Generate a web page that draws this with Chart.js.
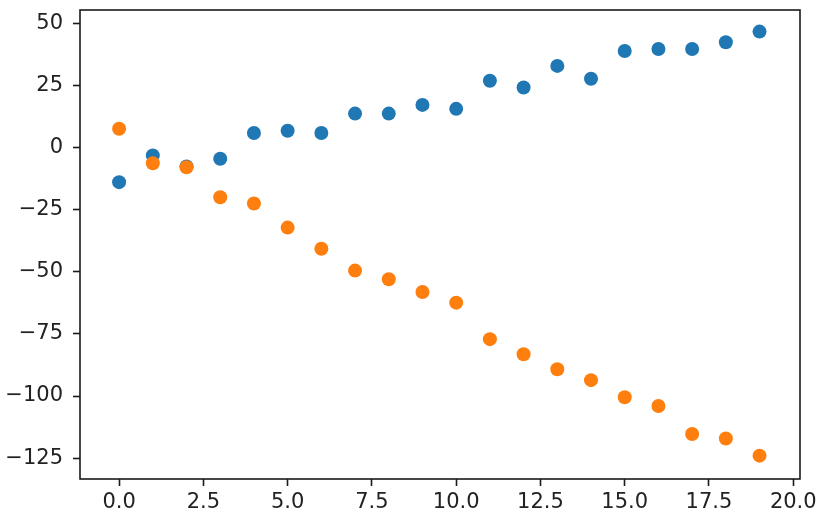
<!DOCTYPE html>
<html>
<head>
<meta charset="utf-8">
<script src="https://cdn.jsdelivr.net/npm/chart.js@4.4.0/dist/chart.umd.min.js"></script>
<style>
  html, body { margin: 0; padding: 0; background: #fff; }
  #wrap { width: 825px; height: 520px; }
</style>
</head>
<body>
<div id="wrap"><canvas id="c" width="825" height="520"></canvas></div>
<script>
const xValues = [0, 1, 2, 3, 4, 5, 6, 7, 8, 9, 10, 11, 12, 13, 14, 15, 16, 17, 18, 19];
const blueValues = [-13.9, -3.2, -7.6, -4.5, 5.9, 6.8, 5.9, 13.7, 13.7, 17.2, 15.6, 26.9, 24.2, 32.9, 27.7, 38.9, 39.7, 39.7, 42.4, 46.7];
const orangeValues = [7.6, -6.3, -7.9, -20.0, -22.5, -32.2, -40.7, -49.5, -53.0, -58.1, -62.4, -77.1, -83.2, -89.2, -93.6, -100.5, -104.0, -115.3, -117.1, -124.0];
const xTicks = [0, 2.5, 5, 7.5, 10, 12.5, 15, 17.5, 20];
const yTicks = [-125, -100, -75, -50, -25, 0, 25, 50];

const toPoints = (ys) => xValues.map((x, i) => ({ x: x, y: ys[i] }));

const frame = {
  id: 'frame',
  afterDatasetsDraw(chart) {
    const a = chart.chartArea;
    const ctx = chart.ctx;
    ctx.save();
    ctx.strokeStyle = '#1a1a1a';
    ctx.lineWidth = 1.6;
    ctx.strokeRect(a.left, a.top, a.right - a.left, a.bottom - a.top);
    ctx.restore();
  }
};

const font = { family: 'DejaVu Sans', size: 21 };

new Chart(document.getElementById('c'), {
  type: 'scatter',
  data: {
    datasets: [
      { data: toPoints(blueValues), backgroundColor: '#1f77b4', borderWidth: 0, pointRadius: 7, order: 1 },
      { data: toPoints(orangeValues), backgroundColor: '#ff7f0e', borderWidth: 0, pointRadius: 7, order: 0 }
    ]
  },
  options: {
    responsive: false,
    animation: false,
    devicePixelRatio: 1,
    layout: { padding: { left: 0, top: 10, right: 25, bottom: 0 } },
    plugins: { legend: { display: false }, tooltip: { enabled: false } },
    scales: {
      x: {
        type: 'linear',
        min: -1.16,
        max: 20.2,
        afterBuildTicks(scale) { scale.ticks = xTicks.map(v => ({ value: v })); },
        afterFit(scale) { scale.height = 41; scale.paddingLeft = 0; scale.paddingRight = 0; },
        border: { display: false },
        grid: { drawOnChartArea: false, drawTicks: true, tickLength: 7, tickColor: '#1a1a1a', tickWidth: 1.6 },
        ticks: { font: font, color: '#222', padding: 4, maxRotation: 0, autoSkip: false,
          callback: (v) => Number(v).toFixed(1) }
      },
      y: {
        type: 'linear',
        min: -133.4,
        max: 55.4,
        afterBuildTicks(scale) { scale.ticks = yTicks.map(v => ({ value: v })); },
        afterFit(scale) { scale.width = 80; scale.paddingTop = 0; scale.paddingBottom = 0; },
        border: { display: false },
        grid: { drawOnChartArea: false, drawTicks: true, tickLength: 7, tickColor: '#1a1a1a', tickWidth: 1.6 },
        ticks: { font: font, color: '#222', padding: 10, autoSkip: false,
          callback: (v) => String(v).replace('-', '\u2212') }
      }
    }
  },
  plugins: [frame]
});
</script>
</body>
</html>
